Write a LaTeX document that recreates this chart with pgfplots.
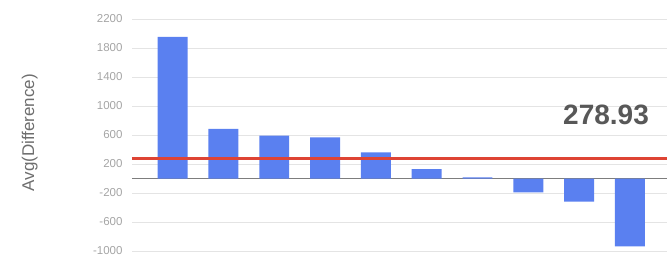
\documentclass[border=0pt]{standalone}
\usepackage{pgfplots}
\pgfplotsset{compat=1.18}
\usepackage{fontspec}
\setmainfont{Liberation Sans}
\definecolor{barblue}{RGB}{90,128,240}
\definecolor{avgred}{RGB}{222,68,52}
\definecolor{gridgray}{RGB}{228,228,228}
\definecolor{ticklab}{RGB}{165,165,165}
\definecolor{labgray}{RGB}{110,110,110}
\definecolor{valgray}{RGB}{88,88,88}
\begin{document}
\begin{tikzpicture}[x=1pt,y=1pt]
\path[use as bounding box] (0,0) rectangle (667,258);
\begin{axis}[
  at={(132pt,7pt)}, anchor=south west,
  scale only axis, width=535pt, height=232pt,
  xmin=-0.8, xmax=9.73,
  ymin=-1000, ymax=2200,
  ytick={-1000,-600,-200,200,600,1000,1400,1800,2200},
  xtick=\empty,
  axis line style={draw=none},
  major tick length=0pt,
  ymajorgrids, grid style={gridgray, line width=0.8pt},
  /pgf/number format/assume math mode=true,
  /pgf/number format/1000 sep={},
  yticklabel style={font=\fontsize{11.5}{12}\selectfont, text=ticklab, xshift=-6pt},
  ylabel={Avg(Difference)},
  ylabel style={font=\fontsize{17}{19}\selectfont, text=labgray, at={(axis description cs:-0.191,0.51)}, anchor=center},
  clip=false,
]
\addplot[draw={rgb,255:red,125;green,125;blue,125}, line width=1.2pt, forget plot] coordinates {(-0.8,0) (9.73,0)};
\addplot[ybar, bar width=0.59, fill=barblue, draw=none] coordinates {
(0,1955) (1,683) (2,590) (3,568) (4,361) (5,131) (6,15) (7,-190) (8,-320) (9,-935)};
\addplot[draw=avgred, line width=2.6pt] coordinates {(-0.8,278.93) (9.73,278.93)};
\node[font=\fontsize{28}{30}\selectfont\bfseries, text=valgray] at (axis cs:8.53,876) {278.93};
\end{axis}
\end{tikzpicture}
\end{document}
